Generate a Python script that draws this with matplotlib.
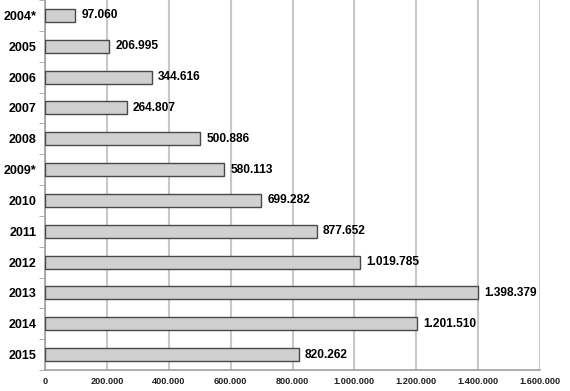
import matplotlib
matplotlib.use("Agg")
import matplotlib.pyplot as plt
import numpy as np

years = ["2004*", "2005", "2006", "2007", "2008", "2009*", "2010", "2011", "2012", "2013", "2014", "2015"]
values = [97060, 206995, 344616, 264807, 500886, 580113, 699282, 877652, 1019785, 1398379, 1201510, 820262]
labels = ["97.060", "206.995", "344.616", "264.807", "500.886", "580.113", "699.282", "877.652", "1.019.785", "1.398.379", "1.201.510", "820.262"]
xticks = [0, 200000, 400000, 600000, 800000, 1000000, 1200000, 1400000, 1600000]
xticklabels = ["0", "200.000", "400.000", "600.000", "800.000", "1.000.000", "1.200.000", "1.400.000", "1.600.000"]

plt.rcParams['font.family'] = ['Liberation Sans', 'DejaVu Sans']
fig = plt.figure(figsize=(5.7, 3.91), dpi=100)
ax = fig.add_axes([45/570, 21/391, 495/570, 370/391])

y = np.arange(len(years))
ax.barh(y, values, height=0.42, color="#d0d0d0", edgecolor="#484848", linewidth=1.0, zorder=3)
for yi, v, l in zip(y, values, labels):
    ax.text(v + 20000, yi, l, va="center", ha="left", fontsize=8.6, fontweight="bold", zorder=4)

ax.set_xlim(0, 1600000)
ax.set_ylim(len(years) - 0.5, -0.5)
ax.set_xticks(xticks)
ax.set_xticklabels(xticklabels, fontsize=6.6, fontweight="bold", color="#202020")
ax.set_yticks(y)
ax.set_yticklabels(years, fontsize=9, fontweight="bold")
ax.set_yticks(np.arange(len(years) + 1) - 0.5, minor=True)
ax.tick_params(axis="y", which="major", length=0, pad=6)
ax.tick_params(axis="y", which="minor", length=4, color="#a0a0a0", direction="out")
ax.tick_params(axis="x", which="major", length=0, pad=5)
ax.xaxis.grid(True, color="#c8c8c8", linewidth=1.5, zorder=0)
for s in ["top", "right"]:
    ax.spines[s].set_visible(False)
ax.spines["left"].set_color("#a0a0a0")
ax.spines["bottom"].set_color("#a0a0a0")
ax.spines["left"].set_linewidth(1.2)
ax.spines["bottom"].set_linewidth(1.2)

fig.savefig("out.png", dpi=100)
